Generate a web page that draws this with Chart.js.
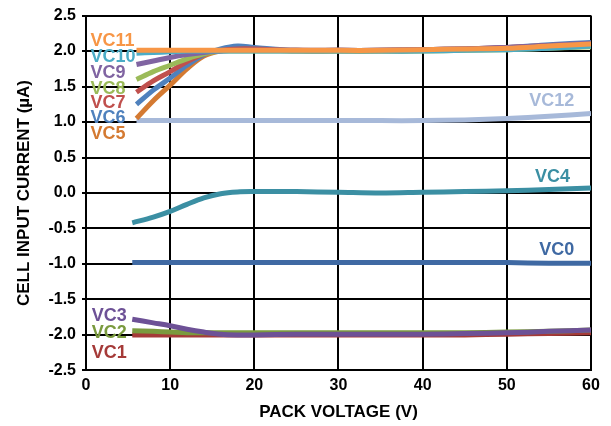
<!DOCTYPE html>
<html>
<head>
<meta charset="utf-8">
<script src="https://cdn.jsdelivr.net/npm/chart.js@4.4.1/dist/chart.umd.min.js"></script>
<style>
  html, body { margin: 0; padding: 0; background: #fff; }
  #wrap { width: 611px; height: 426px; }
</style>
</head>
<body>
<div id="wrap"><canvas id="myChart" width="611" height="426"></canvas></div>
<script>
// pack voltage (V) where each curve was read
var xsUpper = [6, 8, 10, 12, 14, 16, 18, 20, 25, 30, 35, 40, 45, 50, 55, 60];   // VC5..VC12
var xsLower = [5.5, 8, 10, 12, 14, 16, 18, 20, 25, 30, 35, 40, 45, 50, 55, 60]; // VC0..VC4

// cell input current (uA) per channel
var vc11 = [2.01, 2.01, 2.01, 2.01, 2.01, 2.01, 2.01, 2.01, 2.01, 2.01, 2.01, 2.02, 2.03, 2.04, 2.07, 2.10];
var vc10 = [1.97, 1.98, 1.99, 2.0, 2.0, 2.0, 2.0, 2.0, 2.0, 2.0, 2.0, 2.0, 2.01, 2.02, 2.04, 2.07];
var vc9  = [1.81, 1.86, 1.91, 1.95, 1.98, 2.0, 2.01, 2.01, 2.01, 2.01, 2.01, 2.02, 2.03, 2.05, 2.08, 2.11];
var vc8  = [1.6, 1.71, 1.8, 1.89, 1.96, 2.0, 2.0, 2.0, 2.0, 2.0, 2.0, 2.0, 2.01, 2.02, 2.04, 2.06];
var vc7  = [1.42, 1.58, 1.71, 1.85, 1.96, 2.01, 2.03, 2.03, 2.01, 2.01, 2.01, 2.02, 2.03, 2.05, 2.08, 2.1];
var vc6  = [1.25, 1.45, 1.62, 1.8, 1.95, 2.03, 2.07, 2.05, 2.01, 2.01, 2.01, 2.02, 2.03, 2.05, 2.09, 2.12];
var vc5  = [1.05, 1.3, 1.52, 1.75, 1.93, 2.0, 2.02, 2.02, 2.0, 2.0, 2.0, 2.01, 2.02, 2.04, 2.07, 2.1];
var vc12 = [1.02, 1.02, 1.02, 1.02, 1.02, 1.02, 1.02, 1.02, 1.02, 1.02, 1.02, 1.02, 1.03, 1.05, 1.08, 1.12];
var vc4  = [-0.42, -0.34, -0.26, -0.16, -0.07, -0.01, 0.015, 0.02, 0.02, 0.01, 0.0, 0.01, 0.02, 0.03, 0.05, 0.07];
var vc0  = [-0.98, -0.98, -0.98, -0.98, -0.98, -0.98, -0.98, -0.98, -0.98, -0.98, -0.98, -0.98, -0.98, -0.98, -0.99, -0.99];
var vc3  = [-1.78, -1.83, -1.87, -1.92, -1.96, -1.99, -2.0, -2.0, -1.99, -1.99, -1.99, -1.99, -1.98, -1.97, -1.95, -1.93];
var vc2  = [-1.94, -1.95, -1.96, -1.97, -1.97, -1.97, -1.97, -1.97, -1.97, -1.97, -1.97, -1.97, -1.97, -1.96, -1.95, -1.93];
var vc1  = [-2.0, -2.0, -2.0, -2.0, -2.0, -2.0, -2.0, -2.0, -2.0, -2.0, -2.0, -2.0, -2.0, -1.99, -1.98, -1.97];

// series names, in drawing order (first = on top)
var names  = ["VC11", "VC10", "VC9", "VC8", "VC7", "VC6", "VC5", "VC12", "VC4", "VC0", "VC3", "VC2", "VC1"];
var series = [vc11, vc10, vc9, vc8, vc7, vc6, vc5, vc12, vc4, vc0, vc3, vc2, vc1];
var seriesXs = [xsUpper, xsUpper, xsUpper, xsUpper, xsUpper, xsUpper, xsUpper, xsUpper,
                xsLower, xsLower, xsLower, xsLower, xsLower];
var colors = ["#f79646", "#4bacc6", "#8064a2", "#9bbb59", "#c0504d", "#4f81bd", "#d47a32",
              "#a7b9d9", "#3b8fa3", "#3f69a3", "#6d5196", "#7a9a3e", "#a53a38"];

// text label anchors, in data units
var labelX = [0.55, 0.55, 0.55, 0.55, 0.55, 0.55, 0.55, 58.0, 57.5, 58.0, 0.7, 0.7, 0.7];
var labelY = [2.14, 1.91, 1.69, 1.46, 1.27, 1.05, 0.83, 1.29, 0.23, -0.80, -1.73, -1.97, -2.25];
var labelAlign = ["left", "left", "left", "left", "left", "left", "left", "right", "right", "right", "left", "left", "left"];

var yTicks = [-2.5, -2.0, -1.5, -1.0, -0.5, 0.0, 0.5, 1.0, 1.5, 2.0, 2.5];
var xTicks = [0, 10, 20, 30, 40, 50, 60];

var datasets = [];
for (var i = 0; i < names.length; i++) {
  var pts = [];
  for (var j = 0; j < seriesXs[i].length; j++) pts.push({ x: seriesXs[i][j], y: series[i][j] });
  datasets.push({
    label: names[i],
    data: pts,
    borderColor: colors[i],
    backgroundColor: colors[i],
    borderWidth: 5,
    pointRadius: 0,
    fill: false,
    tension: 0.35,
    borderCapStyle: "butt"
  });
}

// writes the channel names next to their curves
var curveLabels = {
  id: "curveLabels",
  afterDatasetsDraw: function (chart) {
    var ctx = chart.ctx;
    var sx = chart.scales.x, sy = chart.scales.y;
    ctx.save();
    ctx.font = "bold 18px 'Liberation Sans', Arial, sans-serif";
    ctx.textBaseline = "middle";
    for (var i = 0; i < names.length; i++) {
      ctx.fillStyle = colors[i];
      ctx.textAlign = labelAlign[i];
      ctx.fillText(names[i], sx.getPixelForValue(labelX[i]), sy.getPixelForValue(labelY[i]));
    }
    ctx.restore();
  }
};

var ctx = document.getElementById("myChart").getContext("2d");
var myChart = new Chart(ctx, {
  type: "line",
  data: { datasets: datasets },
  plugins: [curveLabels],
  options: {
    responsive: false,
    animation: false,
    layout: { padding: { top: 8, right: 20, left: 14, bottom: 3 } },
    plugins: { legend: { display: false }, tooltip: { enabled: false } },
    scales: {
      x: {
        type: "linear",
        min: 0, max: 60,
        afterBuildTicks: function (s) { s.ticks = xTicks.map(function (v) { return { value: v }; }); },
        grid: { color: "#000", lineWidth: 2, drawTicks: false },
        border: { color: "#000", width: 2 },
        ticks: {
          color: "#000", padding: 6,
          font: { family: "'Liberation Sans', Arial, sans-serif", size: 16, weight: "bold" }
        },
        title: {
          display: true, text: "PACK VOLTAGE (V)", color: "#000", padding: { top: 1, bottom: 0 },
          font: { family: "'Liberation Sans', Arial, sans-serif", size: 17, weight: "bold" }
        }
      },
      y: {
        min: -2.5, max: 2.5,
        afterBuildTicks: function (s) { s.ticks = yTicks.map(function (v) { return { value: v }; }); },
        grid: { color: "#000", lineWidth: 2, tickLength: 4 },
        border: { color: "#000", width: 2 },
        ticks: {
          color: "#000", padding: 6,
          font: { family: "'Liberation Sans', Arial, sans-serif", size: 16, weight: "bold" },
          callback: function (v) { return Number(v).toFixed(1); }
        },
        title: {
          display: true, text: "CELL INPUT CURRENT (µA)", color: "#000", padding: { top: 0, bottom: 8 },
          font: { family: "'Liberation Sans', Arial, sans-serif", size: 17, weight: "bold" }
        }
      }
    }
  }
});
</script>
</body>
</html>
